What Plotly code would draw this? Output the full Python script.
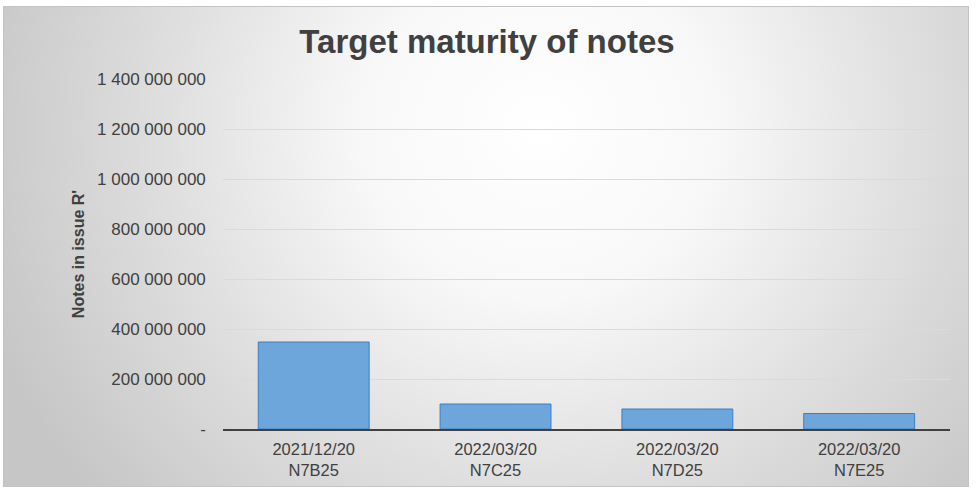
import base64
import plotly.graph_objects as go

# ---- data ----
categories = ["2021/12/20<br>N7B25", "2022/03/20<br>N7C25", "2022/03/20<br>N7D25", "2022/03/20<br>N7E25"]
notes_in_issue = [348_000_000, 100_000_000, 80_000_000, 62_000_000]
y_tick_values = [0, 200_000_000, 400_000_000, 600_000_000, 800_000_000, 1_000_000_000, 1_200_000_000, 1_400_000_000]
y_tick_labels = ["-", "200 000 000", "400 000 000", "600 000 000", "800 000 000",
                 "1 000 000 000", "1 200 000 000", "1 400 000 000"]
title_text = "Target maturity of notes"
y_title_text = "Notes in issue R'"

W, H = 977, 490

# background: radial gradient panel with thin frame
svg = f'''<svg xmlns="http://www.w3.org/2000/svg" width="{W}" height="{H}" viewBox="0 0 {W} {H}">
<defs>
<radialGradient id="g" gradientUnits="userSpaceOnUse" cx="540" cy="130" r="560"
 gradientTransform="translate(540 130) scale(1.05 1) translate(-540 -130)">
<stop offset="0" stop-color="#ffffff"/>
<stop offset="0.3" stop-color="#f8f8f8"/>
<stop offset="0.65" stop-color="#dedede"/>
<stop offset="1" stop-color="#c6c6c6"/>
</radialGradient>
</defs>
<rect x="0" y="0" width="{W}" height="{H}" fill="#ffffff"/>
<rect x="3.5" y="6.5" width="965" height="480" fill="url(#g)" stroke="#c4c4c4" stroke-width="1"/>
</svg>'''
bg_src = "data:image/svg+xml;base64," + base64.b64encode(svg.encode()).decode()

fig = go.Figure()
fig.add_trace(go.Bar(
    x=categories,
    y=notes_in_issue,
    marker=dict(color="#6ca6db", line=dict(color="#3d7ec3", width=1)),
    hoverinfo="x+y",
))

x_dom = [222.8 / W, 950.1 / W]
y_dom = [(H - 429) / H, (H - 79) / H]

fig.update_layout(
    width=W, height=H,
    margin=dict(l=0, r=0, t=0, b=0),
    paper_bgcolor="rgba(0,0,0,0)",
    plot_bgcolor="rgba(0,0,0,0)",
    bargap=0.39,
    showlegend=False,
    font=dict(family="Liberation Sans, Arial, sans-serif", color="#404040"),
    title=dict(text="<b>" + title_text + "</b>", x=487 / W, xanchor="center",
               y=1 - 41 / H, yanchor="middle",
               font=dict(size=33, color="#404040")),
    images=[dict(source=bg_src, xref="paper", yref="paper", x=0, y=1,
                 sizex=1, sizey=1, xanchor="left", yanchor="top",
                 sizing="stretch", layer="below")],
    xaxis=dict(domain=x_dom, showgrid=False, showline=True, linecolor="#404040",
               linewidth=2, ticks="", tickfont=dict(size=16.5, color="#404040"),
               automargin=False, ticklabelstandoff=4),
    yaxis=dict(domain=y_dom, range=[0, 1_400_000_000], tickvals=y_tick_values,
               ticktext=y_tick_labels, showgrid=True, gridcolor="#dadada", gridwidth=1,
               zeroline=False, showline=False, ticks="",
               tickfont=dict(size=17, color="#404040"), automargin=False,
               ticklabelstandoff=16,
               title=dict(text="<b>" + y_title_text + "</b>", standoff=8,
                          font=dict(size=16, color="#404040"))),
)

fig.write_html("out.html", config={"displayModeBar": False},
               post_script="document.body.style.margin='0';document.body.style.overflow='hidden';")
